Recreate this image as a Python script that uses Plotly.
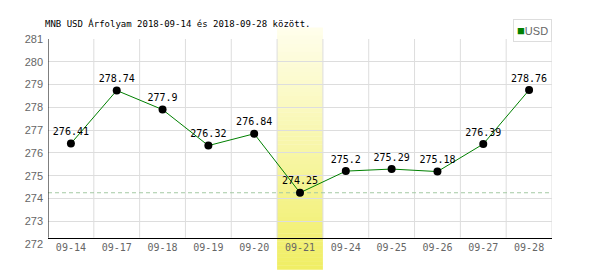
import plotly.graph_objects as go

# ---- data ----
categories = ['09-14', '09-17', '09-18', '09-19', '09-20', '09-21',
              '09-24', '09-25', '09-26', '09-27', '09-28']
usd_values = [276.41, 278.74, 277.9, 276.32, 276.84, 274.25,
              275.2, 275.29, 275.18, 276.39, 278.76]
y_ticks = [272, 273, 274, 275, 276, 277, 278, 279, 280, 281]
title_text = 'MNB USD Árfolyam 2018-09-14 és 2018-09-28 között.'
series_name = 'USD'

# ---- styling ----
MONO = 'DejaVu Sans Mono'
SANS = 'Liberation Sans, Arial, sans-serif'
GRID = '#dddddd'
LINE_GREEN = '#008000'

y_min, y_max = y_ticks[0], y_ticks[-1]
axis_pos = 0.031                       # x-axis line sits slightly above 272
axis_val = y_min + axis_pos * (y_max - y_min)
n = len(categories)
min_idx = usd_values.index(min(usd_values))

fig = go.Figure()

fig.add_trace(go.Scatter(
    x=categories, y=usd_values, mode='lines+markers+text',
    line=dict(color=LINE_GREEN, width=1),
    marker=dict(color='black', size=8),
    text=[str(v) for v in usd_values], textposition='top center',
    textfont=dict(family=MONO, size=10, color='black'),
    showlegend=False, cliponaxis=False, hoverinfo='skip'))

shapes = []
# highlight band (vertical gradient approximated with strips)
top_p, bot_p = 1.055, -0.125
N = 60
c_top = (255, 254, 236)
c_bot = (240, 238, 100)
for k in range(N):
    t = (k + 0.5) / N
    col = tuple(round(c_top[j] + (c_bot[j] - c_top[j]) * t) for j in range(3))
    y1 = top_p - (top_p - bot_p) * k / N
    y0 = top_p - (top_p - bot_p) * (k + 1) / N
    shapes.append(dict(type='rect', xref='x', yref='paper',
                       x0=min_idx - 0.5, x1=min_idx + 0.5, y0=y0 - 0.001, y1=y1 + 0.001,
                       fillcolor='rgb(%d,%d,%d)' % col, line=dict(width=0),
                       layer='below'))
# vertical grid lines at category boundaries
for i in range(1, n + 1):
    shapes.append(dict(type='line', xref='x', yref='y',
                       x0=i - 0.5, x1=i - 0.5, y0=axis_val, y1=y_max,
                       line=dict(color=GRID, width=1), layer='below'))
# left axis line
shapes.append(dict(type='line', xref='x', yref='y', x0=-0.5, x1=-0.5,
                   y0=axis_val, y1=y_max, line=dict(color='black', width=1)))
# dashed minimum line
shapes.append(dict(type='line', xref='x', yref='y', x0=-0.5, x1=n - 0.5,
                   y0=min(usd_values), y1=min(usd_values),
                   line=dict(color='#a3c9a3', width=1, dash='4px,3px'), layer='below'))

fig.update_layout(
    width=600, height=270,
    margin=dict(l=48, r=48, t=39, b=26),
    paper_bgcolor='white', plot_bgcolor='white',
    title=dict(text=title_text, x=45 / 600, xanchor='left', xref='container',
               y=1 - 24 / 270, yanchor='middle', yref='container',
               font=dict(family=MONO, size=9, color='black')),
    xaxis=dict(type='category', range=[-0.5, n - 0.5], showgrid=False,
               showline=True, linecolor='black', linewidth=1,
               anchor='free', position=axis_pos, ticks='',
               tickfont=dict(family=MONO, size=10, color='#666666'),
               fixedrange=True, zeroline=False),
    yaxis=dict(range=[y_min, y_max], tickvals=y_ticks, showgrid=True,
               gridcolor=GRID, gridwidth=1, showline=False, zeroline=False,
               ticks='', ticklabelstandoff=4,
               tickfont=dict(family=SANS, size=11, color='#666666')),
    shapes=shapes,
    annotations=[dict(
        text="<span style='color:#008000;font-size:13px'>■</span>"
             "<span style='color:#666666'>" + series_name + "</span>",
        xref='paper', yref='paper', x=1, y=(244.3 - 19) / 205,
        xanchor='right', yanchor='top', showarrow=False,
        font=dict(family=SANS, size=11),
        bordercolor=GRID, borderwidth=1, borderpad=3, bgcolor='white')],
    showlegend=False,
)

fig.write_html('out.html')
